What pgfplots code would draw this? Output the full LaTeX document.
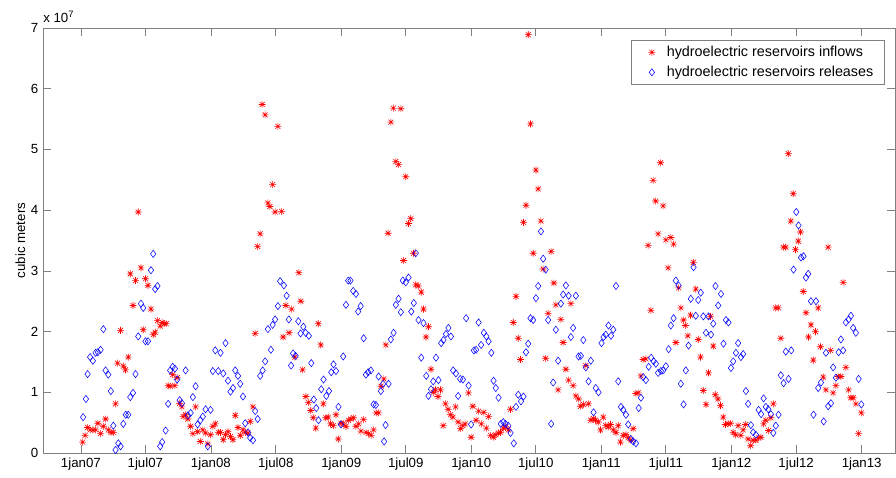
\documentclass[border=0pt]{standalone}
\usepackage{fontspec}
\setmainfont{Liberation Sans}
\usepackage{pgfplots}
\pgfplotsset{compat=1.18}

% MATLAB style '*' marker: plus and cross together
\pgfdeclareplotmark{mstar}{%
  \pgfpathmoveto{\pgfqpoint{-\pgfplotmarksize}{0pt}}\pgfpathlineto{\pgfqpoint{\pgfplotmarksize}{0pt}}%
  \pgfpathmoveto{\pgfqpoint{0pt}{-\pgfplotmarksize}}\pgfpathlineto{\pgfqpoint{0pt}{\pgfplotmarksize}}%
  \pgfpathmoveto{\pgfqpoint{-.707\pgfplotmarksize}{-.707\pgfplotmarksize}}\pgfpathlineto{\pgfqpoint{.707\pgfplotmarksize}{.707\pgfplotmarksize}}%
  \pgfpathmoveto{\pgfqpoint{-.707\pgfplotmarksize}{.707\pgfplotmarksize}}\pgfpathlineto{\pgfqpoint{.707\pgfplotmarksize}{-.707\pgfplotmarksize}}%
  \pgfusepathqstroke}

\definecolor{axgray}{RGB}{128,128,128}

\begin{document}
\begin{tikzpicture}
% x = weeks since 1 Jan 2007, y = cubic meters / 1e7
\begin{axis}[
    scale only axis,
    width=639bp, height=318.75bp,
    xmin=-15.2, xmax=326.5,
    ymin=0, ymax=7,
    axis line style={axgray, line width=0.5bp},
    tick style={axgray, line width=0.5bp},
    major tick length=6bp,
    tick align=inside,
    xtick={0,25.86,52.14,78.14,104.43,130.29,156.57,182.43,208.71,234.57,260.86,286.86,313.14},
    xticklabels={1jan07,1jul07,1jan08,1jul08,1jan09,1jul09,1jan10,1jul10,1jan11,1jul11,1jan12,1jul12,1jan13},
    ytick={0,1,...,7},
    /pgf/number format/assume math mode=true,
    ticklabel style={font=\fontsize{10}{12}\selectfont},
    ylabel={cubic meters},
    ylabel style={at={(axis description cs:0,0.5)}, anchor=center, yshift=17bp, font=\fontsize{10}{12}\selectfont},
    legend cell align=left,
    legend image code/.code={\path (0bp,0bp) (18bp,0bp); \draw[#1] plot coordinates {(9.5bp,0bp)};},
    legend style={at={(1,1)}, anchor=north east, xshift=-7.5bp, yshift=-9bp,
        draw=axgray, line width=0.5bp, font=\fontsize{10.8}{13}\selectfont,
        inner xsep=6bp, inner ysep=1.5bp,
        nodes={text height=7.8bp, text depth=2.2bp, inner sep=2.5bp}},
    clip=false,
]
\addplot[only marks, mark=mstar, mark size=2.6bp, red, line width=0.45bp] coordinates {
(0.7,0.18)(1.7,0.29)(2.7,0.42)(3.7,0.38)(4.8,0.38)(5.9,0.38)(6.8,0.49)(7.9,0.32)(9.0,0.44)(9.9,0.56)
(11.0,0.38)(12.0,0.34)(13.0,0.34)(13.9,0.81)(14.7,1.48)(15.9,2.02)(17.0,1.43)(17.9,1.37)(19.0,1.58)(19.8,2.95)
(20.9,2.43)(21.9,2.84)(23.0,3.97)(24.1,3.05)(25.0,2.03)(25.9,2.87)(26.9,2.76)(28.1,2.37)(29.0,1.95)(29.8,1.99)
(30.7,2.18)(31.8,2.09)(32.6,2.15)(33.4,2.13)(34.2,2.13)(35.0,1.11)(35.8,1.10)(36.8,1.29)(37.7,1.11)(38.6,1.24)
(39.6,0.82)(40.5,0.76)(41.0,0.60)(42.0,0.63)(42.9,0.56)(44.0,0.44)(44.9,0.32)(46.0,0.76)(46.8,0.35)(47.9,0.19)
(48.9,0.38)(50.0,0.33)(50.9,0.15)(52.0,0.30)(52.9,0.44)(53.9,0.48)(55.1,0.34)(56.0,0.34)(57.1,0.22)(58.0,0.30)
(59.0,0.35)(60.0,0.27)(61.0,0.22)(61.9,0.62)(63.0,0.42)(63.9,0.29)(65.0,0.38)(65.9,0.34)(67.0,0.33)(67.9,0.52)
(69.0,0.76)(69.9,1.97)(70.9,3.40)(71.9,3.61)(72.7,5.74)(73.9,5.57)(75.0,4.12)(75.8,4.06)(76.9,4.42)(77.9,3.97)
(79.0,5.38)(80.5,3.98)(81.1,1.91)(82.2,2.43)(83.5,1.98)(84.5,2.37)(85.8,1.58)(87.4,2.97)(88.2,2.50)(88.9,1.37)
(90.2,0.93)(91.2,0.83)(92.2,0.70)(93.2,0.58)(94.2,0.41)(95.2,2.13)(96.2,1.78)(97.2,0.81)(98.2,0.58)(99.2,0.59)
(100.1,0.48)(101.2,0.45)(102.3,0.63)(103.2,0.23)(104.3,0.49)(105.2,0.48)(106.3,0.44)(107.3,0.54)(108.3,0.56)(109.3,0.58)
(110.3,0.44)(111.4,0.48)(112.3,0.36)(113.4,0.55)(114.4,0.34)(115.4,0.32)(116.4,0.29)(117.4,0.38)(118.4,0.66)(119.4,0.66)
(120.4,1.10)(121.5,1.22)(122.3,1.78)(123.2,3.62)(124.3,5.45)(125.3,5.68)(126.3,4.80)(127.4,4.75)(128.3,5.67)(129.4,3.17)
(130.3,4.55)(131.4,3.78)(132.3,3.86)(133.4,3.29)(134.3,2.77)(135.3,2.75)(136.5,2.65)(137.4,2.37)(138.4,1.91)(139.4,2.08)
(140.4,1.38)(141.3,1.00)(142.2,1.04)(143.2,0.93)(144.2,1.04)(145.3,0.45)(146.2,0.81)(147.3,0.72)(148.2,0.63)(149.2,0.59)
(150.3,0.76)(151.3,0.51)(152.3,0.40)(153.2,0.45)(154.1,0.48)(155.5,0.99)(156.5,0.26)(157.2,0.77)(158.5,0.54)(159.5,0.69)
(160.6,0.48)(161.6,0.67)(162.6,0.41)(163.5,0.60)(164.3,0.29)(165.4,0.26)(166.4,0.30)(167.4,0.33)(168.3,0.34)(169.4,0.41)
(170.4,0.43)(171.4,0.38)(172.3,0.72)(173.4,2.15)(174.5,2.58)(175.4,1.89)(176.3,1.54)(177.5,3.80)(178.5,4.08)(179.4,6.89)
(180.3,5.42)(181.4,3.29)(182.5,4.66)(183.4,4.35)(184.5,3.82)(185.4,3.03)(186.4,1.56)(187.4,2.30)(188.6,3.32)(189.7,2.80)
(190.5,2.44)(191.4,1.04)(192.5,2.20)(193.4,1.82)(194.5,1.38)(195.6,1.20)(196.5,2.46)(197.4,1.11)(198.5,0.94)(199.6,0.89)
(200.4,0.77)(201.5,0.80)(202.5,1.44)(203.6,0.81)(204.5,0.54)(205.5,0.57)(206.4,0.54)(207.5,0.51)(208.4,0.38)(209.5,0.59)
(210.5,0.45)(211.5,0.43)(212.4,0.47)(213.5,0.38)(214.6,0.34)(215.5,0.45)(216.4,0.18)(217.5,0.29)(218.6,0.30)(219.5,0.25)
(220.6,0.21)(221.5,0.40)(222.6,0.98)(223.5,0.99)(224.6,1.27)(225.5,1.54)(226.6,1.55)(227.5,3.42)(228.6,2.35)(229.5,4.49)
(230.5,4.15)(231.5,3.61)(232.5,4.78)(233.5,4.07)(234.6,3.51)(235.5,3.05)(236.6,3.55)(237.7,3.44)(238.6,1.82)(239.7,2.72)
(240.6,2.39)(241.7,2.19)(242.4,2.10)(243.4,1.93)(244.5,2.27)(245.6,3.14)(246.6,2.70)(247.6,1.87)(248.5,1.58)(249.6,1.03)
(250.7,0.80)(251.7,1.32)(252.5,2.25)(253.6,1.76)(254.4,0.96)(255.5,0.89)(256.5,0.78)(257.6,0.59)(258.5,0.47)(259.6,0.48)
(260.5,0.49)(261.6,0.34)(262.6,0.30)(263.6,0.45)(264.7,0.29)(265.6,0.38)(266.6,0.47)(267.6,0.23)(268.6,0.12)(269.6,0.21)
(270.7,0.21)(271.8,0.25)(272.7,0.26)(273.8,0.48)(274.7,0.54)(275.8,0.37)(276.7,0.58)(277.7,0.81)(278.6,2.39)(279.7,2.39)
(280.7,1.89)(281.7,3.39)(282.7,3.39)(283.7,4.93)(284.7,3.82)(285.7,4.27)(286.6,3.35)(287.7,3.49)(288.6,3.64)(289.7,2.66)
(290.8,2.31)(291.8,1.91)(292.8,2.11)(293.7,1.53)(294.6,2.00)(295.7,2.39)(296.6,1.75)(297.7,1.25)(298.8,1.04)(299.7,3.39)
(300.7,1.69)(301.7,0.99)(302.8,1.11)(303.7,1.26)(304.8,1.26)(305.7,2.81)(306.8,1.41)(307.9,1.04)(308.8,0.91)(309.7,0.91)
(310.8,0.81)(311.9,0.32)(313.0,0.66)
};
\addlegendentry{hydroelectric reservoirs inflows}
\addplot[only marks, mark=diamond, mark size=2.7bp, blue, line width=0.4bp] coordinates {
(0.9,0.59)(2.0,0.89)(2.7,1.30)(3.7,1.58)(4.8,1.52)(5.9,1.65)(6.8,1.66)(7.9,1.70)(9.0,2.04)(9.9,1.36)
(11.0,1.29)(12.0,1.02)(13.0,0.45)(13.9,0.05)(15.0,0.16)(15.9,0.11)(17.0,0.48)(18.0,0.63)(19.0,0.63)(19.8,0.92)
(20.9,0.99)(21.9,1.30)(23.0,1.92)(24.1,2.46)(25.0,2.39)(25.9,1.84)(26.9,1.84)(28.1,3.01)(29.0,3.28)(29.8,2.70)
(30.7,2.75)(31.8,0.11)(32.6,0.18)(34.0,0.37)(35.0,0.81)(35.8,1.36)(36.8,1.42)(37.7,1.39)(38.6,1.21)(39.6,0.87)
(40.5,0.82)(42.0,1.36)(42.9,0.62)(44.0,0.66)(44.9,0.92)(46.0,1.10)(46.8,0.47)(47.9,0.54)(48.9,0.60)(50.0,0.72)
(50.9,0.11)(52.0,0.71)(52.9,1.35)(53.9,1.69)(55.1,1.35)(56.0,1.65)(57.1,1.31)(58.0,1.81)(59.0,1.19)(60.0,1.01)
(61.0,1.07)(61.9,1.36)(63.0,1.27)(63.9,1.14)(65.0,0.93)(65.9,0.49)(67.0,0.34)(67.9,0.25)(69.0,0.21)(69.9,0.69)
(70.9,0.56)(71.9,1.27)(72.9,1.36)(73.9,1.51)(75.0,2.04)(76.2,1.70)(76.9,2.11)(77.9,2.20)(79.0,2.42)(79.9,2.83)
(81.4,2.76)(82.5,2.59)(83.4,2.20)(84.3,1.44)(85.1,1.64)(86.1,1.60)(87.2,2.17)(88.1,1.97)(89.2,2.08)(90.1,1.98)
(91.4,1.93)(92.4,1.48)(93.4,0.88)(94.4,0.74)(95.3,0.54)(96.4,1.05)(97.3,1.21)(98.4,0.94)(99.5,1.02)(100.4,1.33)
(101.3,1.46)(102.3,1.35)(103.3,0.76)(104.3,0.47)(105.2,1.59)(106.3,2.44)(107.2,2.84)(108.1,2.84)(109.2,2.67)(110.3,2.62)
(111.2,2.33)(112.2,2.42)(113.4,1.89)(114.3,1.29)(115.2,1.33)(116.3,1.36)(117.4,0.80)(118.3,0.79)(119.4,1.26)(120.3,1.02)
(121.2,1.14)(121.6,0.19)(122.2,0.46)(123.4,1.14)(124.3,1.87)(125.4,1.98)(126.3,2.44)(127.4,2.54)(128.3,2.32)(129.1,2.84)
(130.3,2.81)(131.4,2.89)(132.5,2.33)(133.5,2.47)(134.3,3.29)(135.4,2.19)(136.5,1.57)(137.4,2.14)(138.5,1.27)(139.4,0.94)
(140.4,1.05)(141.3,1.18)(142.4,1.57)(143.4,1.20)(144.5,1.81)(145.4,1.86)(146.4,1.96)(147.4,2.06)(148.4,1.92)(149.3,1.36)
(150.4,1.31)(151.3,0.94)(152.1,1.22)(153.2,1.21)(154.5,2.22)(155.5,1.11)(156.5,0.47)(157.6,1.69)(158.5,1.70)(159.5,2.15)
(160.5,1.78)(161.6,1.98)(162.6,1.92)(163.5,1.84)(164.6,1.65)(165.5,1.19)(166.4,1.07)(167.5,0.91)(168.4,0.48)(169.4,0.51)
(170.3,0.48)(171.4,0.45)(172.3,0.33)(173.6,0.16)(174.5,0.76)(175.4,0.96)(176.5,0.85)(177.5,0.93)(178.5,1.66)(179.4,1.80)
(180.3,2.22)(181.4,2.19)(182.5,2.55)(183.4,2.75)(184.5,3.65)(185.4,3.20)(186.4,3.02)(187.4,2.19)(188.6,0.48)(189.4,1.16)
(190.5,2.03)(191.4,1.52)(192.5,2.46)(193.4,2.61)(194.5,2.76)(195.6,2.59)(196.5,1.91)(197.4,2.06)(198.5,2.59)(199.6,1.59)
(200.5,1.60)(201.5,1.86)(202.5,1.41)(203.6,1.18)(204.5,1.52)(205.6,0.67)(206.5,1.07)(207.6,1.00)(208.8,1.81)(209.6,1.91)
(210.5,1.95)(211.6,2.10)(212.6,1.93)(213.5,2.03)(214.6,2.75)(215.5,1.18)(216.6,0.76)(217.5,0.71)(218.6,0.63)(219.5,0.47)
(220.6,0.23)(221.5,0.19)(222.6,0.16)(223.7,0.74)(224.6,0.91)(225.5,1.25)(226.6,1.20)(227.7,1.42)(228.7,1.57)(229.7,1.51)
(230.6,1.47)(231.5,1.32)(232.6,1.35)(233.5,1.36)(234.6,1.43)(235.7,1.71)(236.6,2.10)(237.7,2.22)(238.6,2.84)(239.7,2.76)
(240.6,1.14)(241.7,0.80)(242.6,1.36)(243.7,1.77)(244.6,2.54)(245.7,3.06)(246.6,2.26)(247.6,2.52)(248.6,2.64)(249.6,2.25)
(250.7,1.98)(251.7,2.25)(252.7,1.95)(253.6,2.13)(254.5,2.75)(255.6,2.43)(256.7,2.62)(257.7,1.80)(258.7,2.19)(259.7,2.15)
(260.7,1.40)(261.6,1.51)(262.7,1.65)(263.6,1.81)(264.7,1.58)(265.6,1.63)(266.7,1.02)(267.6,0.81)(268.7,0.46)(269.6,0.34)
(270.7,0.30)(271.8,0.71)(272.8,0.64)(273.8,0.90)(274.7,0.76)(275.7,0.72)(276.7,0.64)(277.7,0.33)(278.7,0.45)(279.8,0.63)
(280.7,1.28)(281.8,1.15)(282.7,1.67)(283.8,1.22)(284.9,1.69)(285.8,3.02)(286.9,3.97)(287.8,3.75)(288.8,3.22)(289.8,3.24)
(290.8,2.89)(291.7,2.95)(292.8,2.50)(293.8,0.63)(294.8,2.50)(295.7,1.07)(296.8,1.16)(297.9,0.52)(298.8,1.65)(299.7,0.77)
(300.8,0.82)(301.7,1.41)(302.8,1.24)(303.9,1.66)(304.8,1.87)(305.7,1.69)(306.8,2.15)(307.9,2.20)(308.8,2.26)(309.7,2.06)
(310.8,1.98)(311.9,1.22)(313.0,0.80)
};
\addlegendentry{hydroelectric reservoirs releases}
\end{axis}
\node[anchor=base west, inner sep=0pt, font=\fontsize{10}{12}\selectfont]
  at ([yshift=4bp]current axis.north west) {x 10\textsuperscript{7}};
\pgfresetboundingbox
\path ([xshift=-32.25bp,yshift=-18.75bp]current axis.south west)
  rectangle ([xshift=0.75bp,yshift=21bp]current axis.north east);
\end{tikzpicture}
\end{document}
